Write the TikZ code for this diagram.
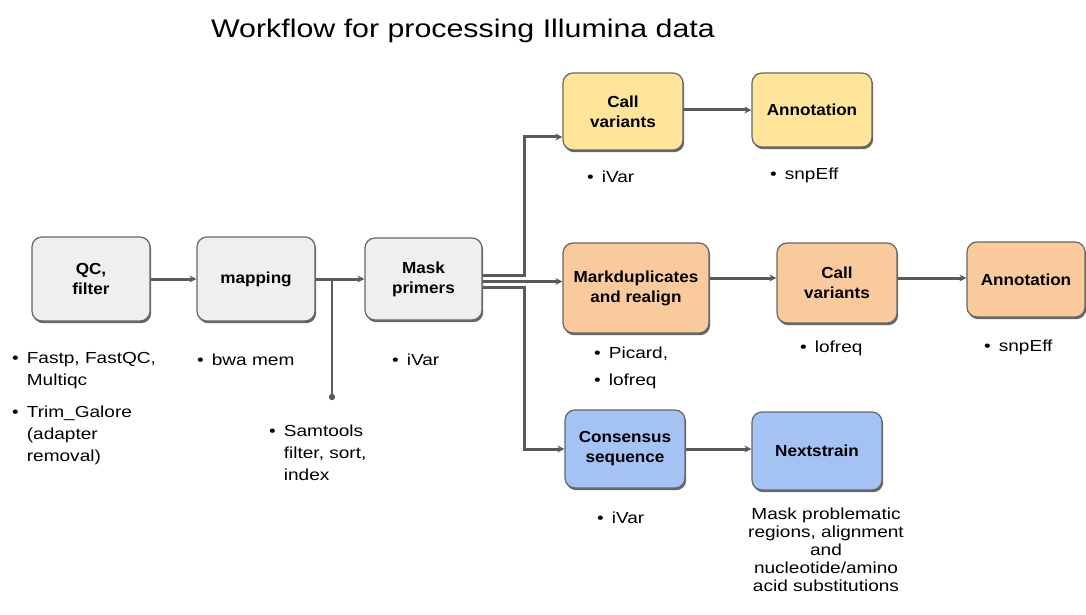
\documentclass[tikz,border=0pt]{standalone}
\usepackage{fontspec}
\setmainfont{Liberation Sans}
\newfontfamily\widefont[FakeStretch=1.19]{Liberation Sans}
\newfontfamily\boxwide[FakeStretch=1.07]{Liberation Sans}
\usetikzlibrary{arrows.meta,shadows}
\definecolor{boxgray}{HTML}{EFEFEF}
\definecolor{boxyellow}{HTML}{FFE599}
\definecolor{boxorange}{HTML}{F9CB9C}
\definecolor{boxblue}{HTML}{A4C2F4}
\definecolor{edgecol}{HTML}{666666}
\definecolor{conncol}{HTML}{5A5A5A}
\newcommand{\boxfont}{\boxwide\fontsize{16}{20}\selectfont\bfseries}
\newcommand{\lblfont}{\widefont\fontsize{16}{22}\selectfont}
\begin{document}
\begin{tikzpicture}[x=1pt,y=1pt,
  stepbox/.style={draw=edgecol, line width=1.2pt, rounded corners=10pt, align=center,
    inner sep=0pt, font=\boxfont,
    drop shadow={shadow xshift=1.2pt, shadow yshift=-2.2pt, fill=edgecol, opacity=1}},
  flow/.style={draw=conncol, line width=3pt, -{Stealth[length=7pt,width=7pt]}},
  lbl/.style={font=\lblfont, inner sep=0pt, align=left},
]
\useasboundingbox (0,0) rectangle (1086,614);
\fill[white] (0,0) rectangle (1086,614);

% title
\node[font=\widefont\fontsize{25.5}{30}\selectfont, inner sep=0pt] (title) at (463,583) {Workflow for processing Illumina data};

% boxes
\node[stepbox, fill=boxgray, minimum width=118pt, minimum height=84pt] (qc) at (91,335) {QC,\\filter};
\node[stepbox, fill=boxgray, minimum width=118pt, minimum height=84pt] (mapping) at (256,335) {mapping};
\node[stepbox, fill=boxgray, minimum width=117pt, minimum height=82pt] (mask) at (423.5,335) {Mask\\primers};
\node[stepbox, fill=boxyellow, minimum width=120pt, minimum height=77pt] (callA) at (623,502.5) {Call\\variants};
\node[stepbox, fill=boxyellow, minimum width=120pt, minimum height=74pt] (annA) at (812,504) {Annotation};
\node[stepbox, fill=boxorange, minimum width=146pt, minimum height=90pt] (markdup) at (636,326) {Markduplicates\\and realign};
\node[stepbox, fill=boxorange, minimum width=120pt, minimum height=80pt] (callB) at (837,331) {Call\\variants};
\node[stepbox, fill=boxorange, minimum width=118pt, minimum height=75pt] (annB) at (1026,334.5) {Annotation};
\node[stepbox, fill=boxblue, minimum width=120pt, minimum height=78pt] (cons) at (625,165) {Consensus\\sequence};
\node[stepbox, fill=boxblue, minimum width=130pt, minimum height=78pt] (next) at (817,163) {Nextstrain};

% connectors
\draw[flow] (qc.east) -- (mapping.west);
\draw[flow] (mapping.east) -- (mask.west);

\coordinate (tap) at (332,335);
\coordinate (tapend) at (332,217);
\draw[draw=conncol, line width=2pt] (tap) -- (tapend);
\fill[conncol] (tapend) circle (3.2pt);

\coordinate (bx) at (524,0);
\coordinate (m1) at ([yshift=3.5pt]mask.east);
\coordinate (m2) at ([yshift=-2.5pt]mask.east);
\coordinate (m3) at ([yshift=-8.5pt]mask.east);
\coordinate (a1) at ([yshift=-25.5pt]callA.west);
\draw[flow] (m1) -- (m1 -| bx) |- (a1);
\draw[flow] (m2) -- (m2 -| markdup.west);
\draw[flow] (m3) -- (m3 -| bx) |- (cons.west);

\draw[flow] (callA.east |- annA.west) -- (annA.west);
\coordinate (r2) at ([yshift=10pt]markdup.east);
\draw[flow] (r2) -- (r2 -| callB.west);
\draw[flow] (callB.east |- r2) -- (annB.west |- r2);
\draw[flow] (cons.east) -- (cons.east -| next.west);

% labels
\node[lbl, anchor=north west] (qcl) at (12,266) {\begin{tabular}[t]{@{}l@{\hspace{8pt}}l@{}}•&Fastp, FastQC,\\ &Multiqc\\[10pt]•&Trim\_Galore\\ &(adapter\\ &removal)\end{tabular}};
\node[lbl, anchor=west] (mapl) at (197,254) {•\hspace{8pt}bwa mem};
\node[lbl, anchor=west] (maskl) at (392,254) {•\hspace{8pt}iVar};
\node[lbl, anchor=north west] (saml) at (269,193) {\begin{tabular}[t]{@{}l@{\hspace{8pt}}l@{}}•&Samtools\\ &filter, sort,\\ &index\end{tabular}};
\node[lbl, anchor=west] (callAl) at (587,437) {•\hspace{8pt}iVar};
\node[lbl, anchor=west] (annAl) at (770,439) {•\hspace{8pt}snpEff};
\node[lbl, anchor=north west] (mdl) at (594,271) {\begin{tabular}[t]{@{}l@{\hspace{8pt}}l@{}}•&Picard,\\[5pt]•&lofreq\end{tabular}};
\node[lbl, anchor=west] (callBl) at (800,266) {•\hspace{8pt}lofreq};
\node[lbl, anchor=west] (annBl) at (984,267) {•\hspace{8pt}snpEff};
\node[lbl, anchor=west] (consl) at (597,96) {•\hspace{8pt}iVar};
\node[font=\widefont\fontsize{16}{18}\selectfont, inner sep=0pt, align=center] (nextl) at (826,64) {Mask problematic\\regions, alignment\\and\\nucleotide/amino\\acid substitutions};
\end{tikzpicture}
\end{document}
